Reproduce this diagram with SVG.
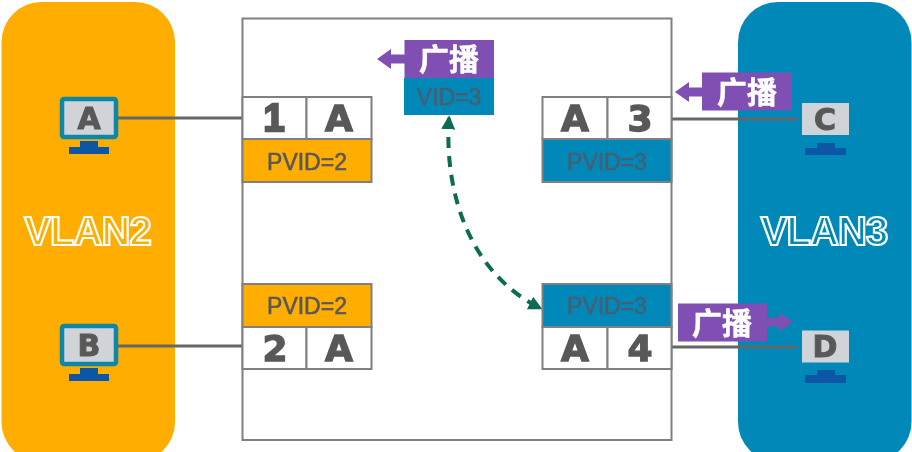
<svg xmlns="http://www.w3.org/2000/svg" width="912" height="452" viewBox="0 0 912 452">
  <defs>
    <marker id="greenHead" viewBox="0 0 10 10" refX="8" refY="5" markerWidth="3.5" markerHeight="3.5" orient="auto-start-reverse">
      <path d="M0 0L10 5L0 10Z" fill="#0f6b52"/>
    </marker>
    <filter id="soft" x="-5%" y="-5%" width="110%" height="110%"><feGaussianBlur stdDeviation="0.5"/></filter>
  </defs>
  <style>
    text { font-family: "Liberation Sans", "Noto Sans CJK SC", sans-serif; text-anchor: middle; }
    .cell { fill: #fff; stroke: #808080; stroke-width: 2; }
    .pvid2 { fill: #ffad00; stroke: #808080; stroke-width: 2; }
    .pvid3 { fill: #0089b8; stroke: #808080; stroke-width: 2; }
    .big { font-family: "DejaVu Sans", sans-serif; font-size: 36px; font-weight: 700; fill: #595959; stroke: #595959; stroke-width: 1.4; }
    .one { font-family: "Liberation Sans", sans-serif; font-size: 38px; stroke-width: 2.4; }
    .tag { font-size: 23px; fill: #595959; stroke: #595959; stroke-width: .6; }
    .tag3 { font-size: 23px; fill: #505a68; stroke: #505a68; stroke-width: .5; opacity: .9; }
    .bc { font-size: 30px; font-weight: 700; fill: #fff; stroke: #fff; stroke-width: .5; }
    .vlan { font-size: 40px; font-weight: 700; stroke: #fff; stroke-width: 2.2; letter-spacing: -.9px; }
    .wire { stroke: #666; stroke-width: 3; fill: none; }
    .purple { fill: #7f50b4; }
    .screen { fill: #d0d3d8; }
    .frame { fill: #d0d3d8; stroke: #0d87a8; stroke-width: 4.5; }
    .stand { fill: #0a57a5; }
    .pc { font-family: "DejaVu Sans", sans-serif; font-size: 30px; font-weight: 700; fill: #595959; stroke: #595959; stroke-width: 1; }
  </style>

  <rect width="912" height="452" fill="#fff"/>

  <g filter="url(#soft)">
    <g id="vlan2">
      <rect x="1.5" y="2" width="173.5" height="460" rx="40" fill="#ffad00"/>
      <text class="vlan" x="87.500" y="245" fill="#ffad00">VLAN2</text>
    </g>
    <g id="vlan3">
      <rect x="738" y="2" width="173.5" height="460" rx="40" fill="#0089b8"/>
      <text class="vlan" x="824" y="245" fill="#0089b8">VLAN3</text>
    </g>
    <g id="switch">
      <rect x="242.5" y="18.5" width="429" height="421.5" fill="#fff" stroke="#808080" stroke-width="2"/>
    </g>

    <g id="connectors">
      <path class="wire" d="M118 118H242"/>
      <path class="wire" d="M118 346H242"/>
      <path class="wire" d="M671 119H797"/>
      <path class="wire" d="M671 347H798"/>
      <path d="M449 118C444 190 468 272 540 308" fill="none" stroke="#0f6b52" stroke-width="4" stroke-dasharray="11 8" marker-start="url(#greenHead)" marker-end="url(#greenHead)"/>
    </g>

    <g id="port1">
      <rect class="cell" x="242.5" y="97" width="64" height="42"/>
      <rect class="cell" x="306.5" y="97" width="65" height="42"/>
      <rect class="pvid2" x="242.5" y="139" width="129" height="43"/>
      <text class="big one" x="274" y="131">1</text>
      <text class="big" x="339" y="131">A</text>
      <text class="tag" x="307" y="170">PVID=2</text>
    </g>
    <g id="port2">
      <rect class="pvid2" x="242.5" y="284" width="129" height="43"/>
      <rect class="cell" x="242.5" y="327" width="64" height="42"/>
      <rect class="cell" x="306.5" y="327" width="65" height="42"/>
      <text class="tag" x="307" y="314">PVID=2</text>
      <text class="big" x="275" y="361">2</text>
      <text class="big" x="339" y="361">A</text>
    </g>
    <g id="port3">
      <rect class="cell" x="542.5" y="97" width="65" height="42"/>
      <rect class="cell" x="607.5" y="97" width="64" height="42"/>
      <rect class="pvid3" x="542.5" y="139" width="129" height="43"/>
      <text class="big" x="575" y="131">A</text>
      <text class="big" x="640" y="131">3</text>
      <text class="tag3" x="607" y="170">PVID=3</text>
    </g>
    <g id="port4">
      <rect class="pvid3" x="542.5" y="284" width="129" height="43"/>
      <rect class="cell" x="542.5" y="327" width="65" height="42"/>
      <rect class="cell" x="607.5" y="327" width="64" height="42"/>
      <text class="tag3" x="607" y="314">PVID=3</text>
      <text class="big" x="575" y="361">A</text>
      <text class="big" x="640" y="361">4</text>
    </g>

    <g id="vid">
      <rect x="404" y="78" width="90" height="37" fill="#0089b8"/>
      <text class="tag3" x="449" y="105">VID=3</text>
    </g>
    <g id="broadcast-vid">
      <rect class="purple" x="404.5" y="40" width="89.5" height="38"/>
      <path class="purple" d="M377 59L391 49V54.500H405V63.500H391V69Z"/>
      <text class="bc" x="449" y="70">广播</text>
    </g>
    <g id="broadcast-c">
      <rect class="purple" x="702" y="72.500" width="90" height="38"/>
      <path class="purple" d="M675 92L689 82V87.500H703V96.500H689V102Z"/>
      <text class="bc" x="747" y="103">广播</text>
    </g>
    <g id="broadcast-d">
      <rect class="purple" x="678" y="303.500" width="89" height="38"/>
      <path class="purple" d="M793 322L779 312V317.500H766V326.500H779V332Z"/>
      <text class="bc" x="722" y="334">广播</text>
    </g>

    <g id="host-a">
      <rect class="frame" x="62" y="99" width="54" height="38" rx="2"/>
      <path class="stand" d="M80 141H98V147H109V154H69V147H80Z"/>
      <text class="pc" x="89" y="129">A</text>
    </g>
    <g id="host-b">
      <rect class="frame" x="62" y="326" width="54" height="38" rx="2"/>
      <path class="stand" d="M80 368H98V374H109V381H69V374H80Z"/>
      <text class="pc" x="89" y="356">B</text>
    </g>
    <g id="host-c">
      <rect class="screen" x="802" y="103" width="47" height="32"/>
      <path class="stand" d="M817 143H835V148H846V155H805V148H817Z"/>
      <text class="pc" x="825" y="130">C</text>
    </g>
    <g id="host-d">
      <rect class="screen" x="802" y="330.500" width="47" height="32"/>
      <path class="stand" d="M817 370H835V375H846V383H805V375H817Z"/>
      <text class="pc" x="825" y="357">D</text>
    </g>
  </g>
</svg>
